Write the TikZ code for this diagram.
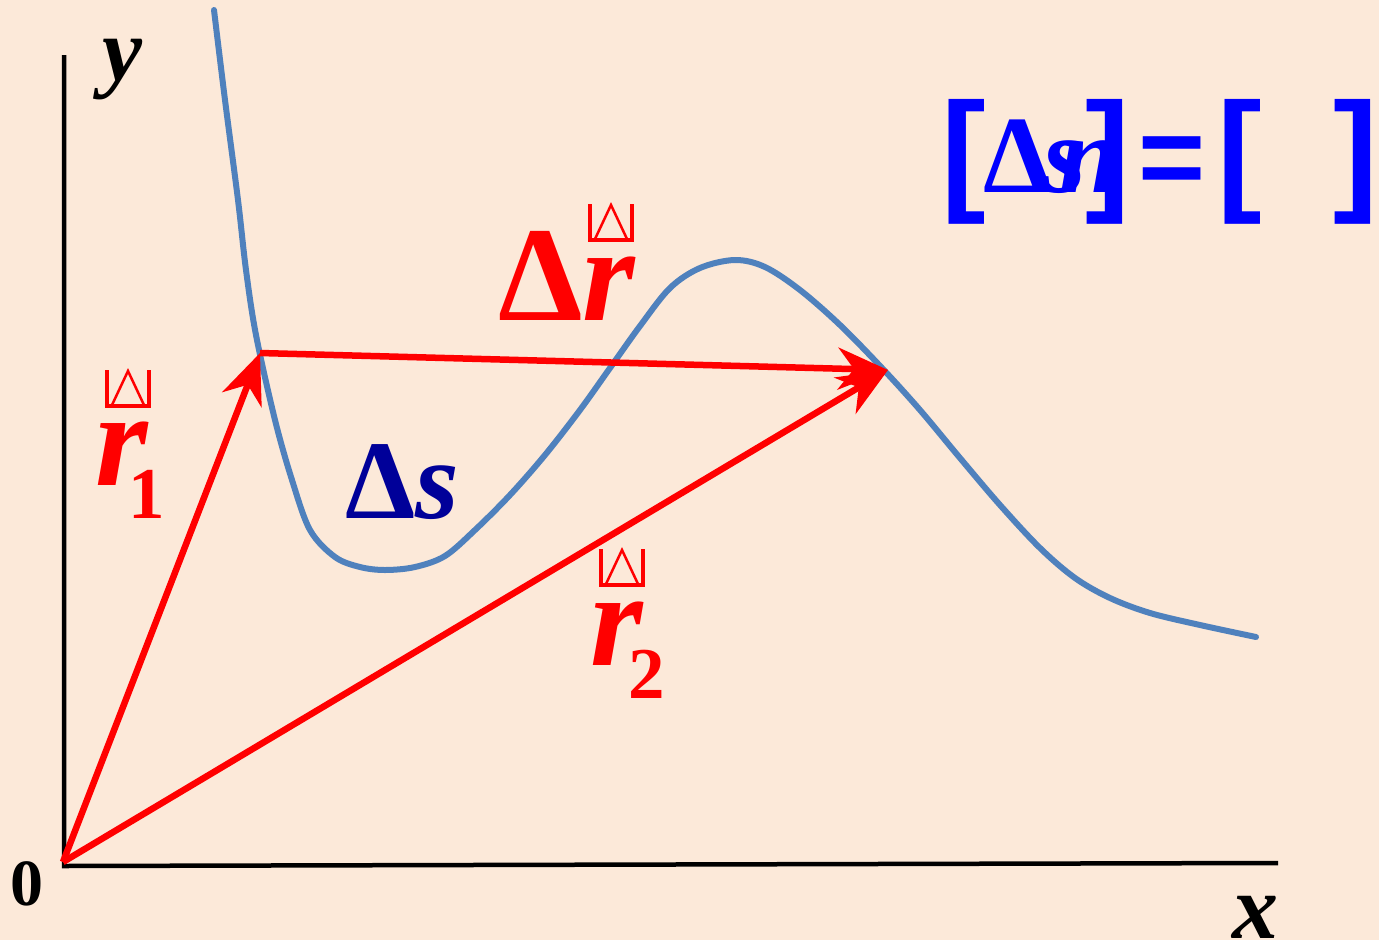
\documentclass[tikz,border=0pt]{standalone}
\usepackage{fontspec}
\setmainfont{Liberation Serif}
\newfontfamily\arialf{Liberation Sans}
\usetikzlibrary{arrows.meta}
\definecolor{bg}{RGB}{252,233,217}
\definecolor{curveblue}{RGB}{79,129,189}
\definecolor{navyc}{RGB}{0,0,153}
\definecolor{vred}{RGB}{255,0,0}
\definecolor{pblue}{RGB}{0,0,255}
\tikzset{
  vec/.style={draw=vred, line width=6.5pt, -{Stealth[length=50pt,width=42pt,inset=16pt]}},
  lbl/.style={inner sep=0pt, anchor=base west},
  vmark/.pic={
    \draw[vred, line width=3.2pt] (0,0) -- (0,36) -- (42,36) -- (42,0);
    \draw[vred, line width=2.5pt] (5,35) -- (21,1) -- (37,35);
  }
}
\begin{document}
\begin{tikzpicture}[x=1pt,y=-1pt]
\fill[bg] (0,0) rectangle (1379,940);
\useasboundingbox (0,0) rectangle (1379,940);
% axes
\coordinate (ytop) at (64,55);
\coordinate (orig) at (64,866);
\coordinate (xend) at (1278,863);
\draw[line width=4.5pt] (ytop) -- (orig) -- (xend);
% curve
\draw[curveblue, line width=6pt, line cap=round] plot[smooth, tension=0.55] coordinates {
 (214,10) (225,100) (238,200) (246,270) (256,335) (275,420) (292,480) (310,530)
 (335,557) (360,567) (385,570) (415,567) (445,556) (475,530) (510,495) (545,455)
 (580,410) (610,368) (640,326) (670,288) (700,268) (735,260) (765,267) (800,290)
 (840,325) (882,368) (920,410) (960,458) (1000,505) (1040,548) (1075,578)
 (1110,598) (1150,613) (1200,625) (1256,637)};
% vectors
\coordinate (O) at (63,862);
\coordinate (A) at (260,353);
\coordinate (B) at (888,370);
\draw[vec] (O) -- (A);
\draw[vec] (O) -- (B);
\draw[vec] (A) -- (B);
% axis labels
\node[lbl, font=\fontsize{90}{90}\selectfont\bfseries\itshape] (ylab) at (102,80) {y};
\node[lbl, font=\fontsize{92}{92}\selectfont\bfseries\itshape] (xlab) at (1232,938) {x};
\node[lbl, font=\fontsize{66}{66}\selectfont\bfseries] (zero) at (10,905) {0};
% vector labels
\node[lbl, text=vred, font=\fontsize{135}{135}\selectfont\bfseries] (dr) at (498,320) {Δ\textit{r}};
\pic at (590,204) {vmark};
\node[lbl, text=vred, font=\fontsize{135}{135}\selectfont\bfseries\itshape] (r1) at (95,485) {r};
\node[lbl, text=vred, font=\fontsize{73}{73}\selectfont\bfseries] (r1s) at (128,518) {1};
\pic at (107,370) {vmark};
\node[lbl, text=vred, font=\fontsize{135}{135}\selectfont\bfseries\itshape] (r2) at (590,665) {r};
\node[lbl, text=vred, font=\fontsize{73}{73}\selectfont\bfseries] (r2s) at (628,698) {2};
\pic at (601,549) {vmark};
\node[lbl, text=navyc, font=\fontsize{112}{112}\selectfont\bfseries] (ds) at (345,518) {Δ\textit{s}};
% top right formula
\begin{scope}[text=pblue]
\node[lbl, font=\arialf\fontsize{134}{134}\selectfont\bfseries] (lb1) at (941,196) {[};
\node[lbl, font=\fontsize{110}{110}\selectfont\bfseries] (dd) at (983,192) {Δ};
\node[lbl, font=\fontsize{110}{110}\selectfont\bfseries\itshape] (ss) at (1043,192) {s};
\node[lbl, font=\fontsize{110}{110}\selectfont\bfseries\itshape] (nn) at (1059,192) {n};
\node[lbl, font=\arialf\fontsize{134}{134}\selectfont\bfseries] (rb1) at (1085,196) {]};
\node[lbl, font=\arialf\fontsize{115}{115}\selectfont\bfseries] (eq) at (1138,196) {=};
\node[lbl, font=\arialf\fontsize{134}{134}\selectfont\bfseries] (lb2) at (1217,196) {[};
\node[lbl, font=\arialf\fontsize{134}{134}\selectfont\bfseries] (rb2) at (1333,196) {]};
\end{scope}
\end{tikzpicture}
\end{document}
